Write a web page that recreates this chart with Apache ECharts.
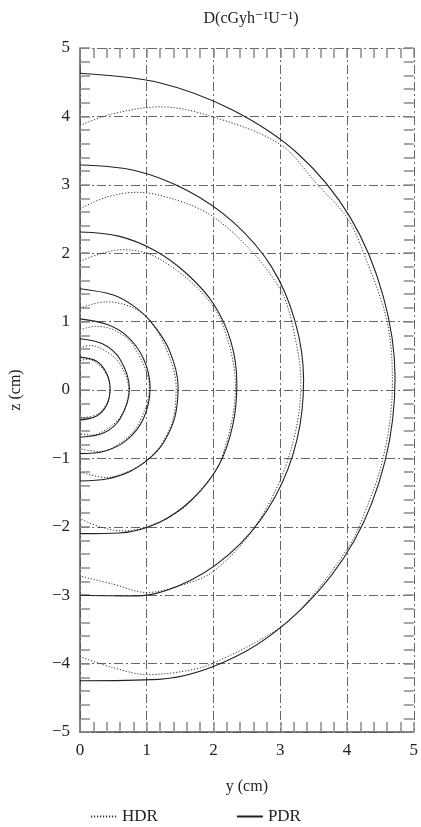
<!DOCTYPE html>
<html>
<head>
<meta charset="utf-8">
<script src="https://cdn.jsdelivr.net/npm/echarts@6/dist/echarts.min.js"></script>
<style>
html,body{margin:0;padding:0;background:#fff;}
#chart{width:421px;height:827px;}
</style>
</head>
<body>
<div id="chart"></div>
<script>
// Isodose contours: [y (cm), z (cm)]
const pdr1 = [[0,0.48],[0.25,0.42],[0.4,0.24],[0.45,0.02],[0.4,-0.22],[0.25,-0.38],[0,-0.44]];
const pdr2 = [[0,0.75],[0.35,0.67],[0.6,0.45],[0.74,0.02],[0.6,-0.42],[0.35,-0.63],[0,-0.69]];
const pdr3 = [[0,1.04],[0.4,0.96],[0.7,0.79],[0.95,0.46],[1.05,0.04],[0.95,-0.42],[0.69,-0.74],[0.35,-0.90],[0,-0.93]];
const pdr4 = [[0,1.48],[0.5,1.39],[0.8,1.23],[1.06,1.0],[1.33,0.6],[1.47,0.05],[1.42,-0.4],[1.25,-0.77],[1.04,-1.0],[0.75,-1.19],[0.4,-1.30],[0,-1.33]];
const pdr5 = [[0,2.31],[0.58,2.25],[1.12,2.04],[1.6,1.7],[2.0,1.26],[2.26,0.71],[2.35,0.1],[2.29,-0.51],[2.08,-1.1],[1.69,-1.59],[1.18,-1.94],[0.59,-2.09],[0,-2.10]];
const pdr6 = [[0,3.29],[0.82,3.21],[1.6,2.92],[2.3,2.45],[2.87,1.8],[3.22,1.01],[3.35,0.15],[3.25,-0.73],[2.93,-1.55],[2.4,-2.25],[1.68,-2.77],[0.85,-3.01],[0,-3.0]];
const pdr7 = [[0,4.63],[1.16,4.5],[2.27,4.1],[3.27,3.45],[4.05,2.52],[4.54,1.38],[4.72,0.18],[4.57,-1.04],[4.11,-2.2],[3.35,-3.17],[2.35,-3.89],[1.18,-4.23],[0,-4.25]];

const hdr1 = [[0,0.43],[0.12,0.45],[0.3,0.35],[0.42,0.18],[0.45,0],[0.4,-0.2],[0.25,-0.36],[0,-0.41]];
const hdr2 = [[0,0.62],[0.16,0.65],[0.4,0.56],[0.6,0.38],[0.73,0],[0.6,-0.4],[0.35,-0.6],[0.18,-0.66],[0,-0.64]];
const hdr3 = [[0,0.88],[0.23,0.93],[0.5,0.88],[0.8,0.65],[1.04,0.02],[0.9,-0.45],[0.68,-0.72],[0.3,-0.90],[0,-0.86]];
const hdr4 = [[0,1.20],[0.4,1.29],[0.8,1.2],[1.06,1.0],[1.3,0.58],[1.44,0.05],[1.4,-0.4],[1.24,-0.76],[1.03,-1.0],[0.75,-1.18],[0.4,-1.28],[0,-1.20]];
const hdr5 = [[0,1.88],[0.3,1.99],[0.62,2.05],[1.0,2.0],[1.36,1.81],[1.8,1.45],[2.12,1.0],[2.33,0.05],[2.12,-1.0],[1.8,-1.47],[1.5,-1.76],[1.0,-2.0],[0.62,-2.06],[0.3,-2.0],[0,-1.88]];
const hdr6 = [[0,2.65],[0.4,2.82],[0.85,2.89],[1.5,2.76],[2.0,2.53],[2.55,2.05],[3.0,1.47],[3.17,1.0],[3.31,0.1],[3.12,-1.0],[2.62,-2.0],[2.0,-2.65],[1.5,-2.86],[1.0,-2.96],[0.5,-2.84],[0,-2.72]];
const hdr7 = [[0,3.87],[0.5,4.04],[1.2,4.14],[2.0,3.99],[3.0,3.59],[3.56,3.0],[4.0,2.52],[4.25,2.0],[4.6,1.0],[4.68,0.1],[4.54,-1.0],[4.18,-2.0],[4.0,-2.33],[3.49,-3.0],[3.0,-3.47],[1.98,-4.0],[1.5,-4.12],[1.0,-4.16],[0.5,-4.06],[0,-3.90]];

const pdrCurves = [pdr1, pdr2, pdr3, pdr4, pdr5, pdr6, pdr7];
const hdrCurves = [hdr1, hdr2, hdr3, hdr4, hdr5, hdr6, hdr7];

const xRange = [0, 5];
const zRange = [-5, 5];
const titleText = 'D(cGyh\u207B\u00B9U\u207B\u00B9)';
const xName = 'y (cm)';
const zName = 'z (cm)';

const FONT = '"Liberation Serif", "DejaVu Serif", serif';
const tickStyle = {color: '#8a8a8a', width: 1.5};
const gridStyle = {color: '#666', width: 1, type: [9, 3, 2, 3]};

const series = [];
hdrCurves.forEach(c => series.push({
  name: 'HDR', type: 'line', data: c, smooth: 0.34, symbol: 'none', silent: true,
  itemStyle: {color: '#333'},
  lineStyle: {color: '#333', width: 1, type: [1.2, 1.8]}
}));
pdrCurves.forEach(c => series.push({
  name: 'PDR', type: 'line', data: c, smooth: 0.34, symbol: 'none', silent: true,
  itemStyle: {color: '#222'},
  lineStyle: {color: '#222', width: 1.1, type: 'solid'}
}));

const fmt = v => (v < 0 ? '\u2212' + Math.abs(v) : String(v));

const chart = echarts.init(document.getElementById('chart'), null, {renderer: 'canvas'});
chart.setOption({
  animation: false,
  backgroundColor: '#fff',
  title: {
    text: titleText, left: 246, top: 6, textAlign: 'center',
    textStyle: {fontFamily: FONT, fontSize: 16, fontWeight: 'normal', color: '#222'}
  },
  legend: {
    data: ['HDR', 'PDR'], left: 85, top: 803, itemGap: 78, itemWidth: 26, itemHeight: 10,
    textStyle: {fontFamily: FONT, fontSize: 17, color: '#222'},
    itemStyle: {opacity: 0},
    selectedMode: false
  },
  grid: {left: 78, right: 6, top: 48, bottom: 95, containLabel: false},
  xAxis: [{
    type: 'value', min: xRange[0], max: xRange[1], interval: 1, position: 'bottom',
    name: xName, nameLocation: 'middle', nameGap: 47,
    nameTextStyle: {fontFamily: FONT, fontSize: 16, color: '#222'},
    axisLine: {show: true, onZero: false, lineStyle: {color: '#555', width: 1.5}},
    axisTick: {show: true, inside: true, length: 10, lineStyle: tickStyle},
    minorTick: {show: true, splitNumber: 5, length: 10, lineStyle: tickStyle},
    axisLabel: {fontFamily: FONT, fontSize: 17, color: '#222', margin: 10, formatter: fmt},
    splitLine: {show: true, lineStyle: gridStyle}
  }, {
    type: 'value', min: xRange[0], max: xRange[1], interval: 1, position: 'top',
    axisLine: {show: false, onZero: false},
    axisTick: {show: true, inside: true, length: 10, lineStyle: tickStyle},
    minorTick: {show: true, splitNumber: 5, length: 10, lineStyle: tickStyle},
    axisLabel: {show: false}, splitLine: {show: false}
  }],
  yAxis: [{
    type: 'value', min: zRange[0], max: zRange[1], interval: 1, position: 'left',
    name: zName, nameLocation: 'middle', nameGap: 56, nameRotate: 90,
    nameTextStyle: {fontFamily: FONT, fontSize: 16, color: '#222'},
    axisLine: {show: true, onZero: false, lineStyle: {color: '#555', width: 1.5}},
    axisTick: {show: true, inside: true, length: 10, lineStyle: tickStyle},
    minorTick: {show: true, splitNumber: 5, length: 10, lineStyle: tickStyle},
    axisLabel: {fontFamily: FONT, fontSize: 17, color: '#222', margin: 10, formatter: fmt},
    splitLine: {show: true, lineStyle: gridStyle}
  }, {
    type: 'value', min: zRange[0], max: zRange[1], interval: 1, position: 'right',
    axisLine: {show: false, onZero: false},
    axisTick: {show: true, inside: true, length: 10, lineStyle: tickStyle},
    minorTick: {show: true, splitNumber: 5, length: 10, lineStyle: tickStyle},
    axisLabel: {show: false}, splitLine: {show: false}
  }],
  series: series
});
</script>
</body>
</html>
